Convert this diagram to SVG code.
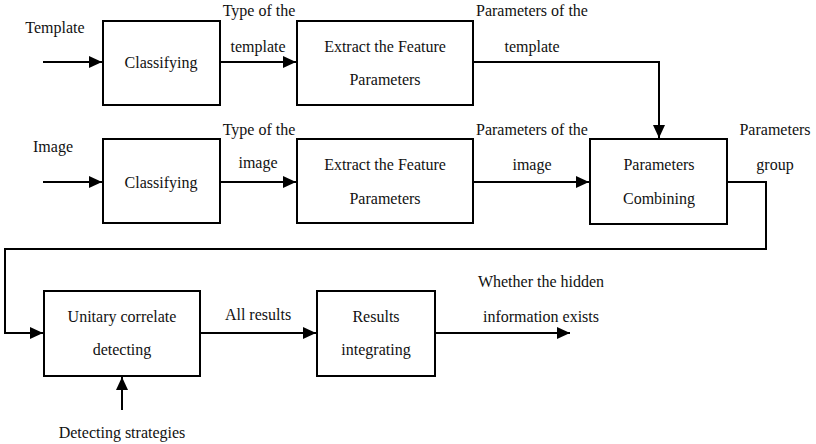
<svg xmlns="http://www.w3.org/2000/svg" width="816" height="444" viewBox="0 0 816 444">
  <style>
    .box { fill: #fff; stroke: #000; stroke-width: 2; }
    .wire { fill: none; stroke: #000; stroke-width: 2; }
    text { font-family: "Liberation Serif", "Times New Roman", serif; font-size: 16px; fill: #111; text-anchor: middle; }
  </style>
  <defs>
    <marker id="arrow" markerUnits="userSpaceOnUse" markerWidth="14" markerHeight="12" refX="13" refY="6" orient="auto">
      <path d="M0,0 L13,6 L0,12 Z" fill="#000"/>
    </marker>
  </defs>
  <rect width="816" height="444" fill="#fff"/>

  <g id="connectors">
    <path class="wire" d="M43,62 H102" marker-end="url(#arrow)"/>
    <path class="wire" d="M220,62 H296" marker-end="url(#arrow)"/>
    <path class="wire" d="M473,62 H659 V138" marker-end="url(#arrow)"/>
    <path class="wire" d="M43,182 H102" marker-end="url(#arrow)"/>
    <path class="wire" d="M220,182 H296" marker-end="url(#arrow)"/>
    <path class="wire" d="M473,182 H589" marker-end="url(#arrow)"/>
    <path class="wire" d="M727,182 H766 V249 H5 V333 H43" marker-end="url(#arrow)"/>
    <path class="wire" d="M200,333 H316" marker-end="url(#arrow)"/>
    <path class="wire" d="M435,333 H570" marker-end="url(#arrow)"/>
    <path class="wire" d="M122,410 V377" marker-end="url(#arrow)"/>
  </g>

  <g id="classify-template">
    <rect class="box" x="103" y="21" width="117" height="84"/>
    <text x="161" y="68">Classifying</text>
  </g>
  <g id="extract-template">
    <rect class="box" x="297" y="21" width="176" height="84"/>
    <text x="385" y="52">Extract the Feature</text>
    <text x="385" y="85">Parameters</text>
  </g>
  <g id="classify-image">
    <rect class="box" x="103" y="139" width="117" height="84"/>
    <text x="161" y="188">Classifying</text>
  </g>
  <g id="extract-image">
    <rect class="box" x="297" y="139" width="176" height="84"/>
    <text x="385" y="170">Extract the Feature</text>
    <text x="385" y="204">Parameters</text>
  </g>
  <g id="combine">
    <rect class="box" x="590" y="139" width="137" height="85"/>
    <text x="659" y="170">Parameters</text>
    <text x="659" y="204">Combining</text>
  </g>
  <g id="detect">
    <rect class="box" x="44" y="291" width="156" height="85"/>
    <text x="122" y="322">Unitary correlate</text>
    <text x="122" y="355">detecting</text>
  </g>
  <g id="integrate">
    <rect class="box" x="317" y="291" width="118" height="85"/>
    <text x="376" y="322">Results</text>
    <text x="376" y="355">integrating</text>
  </g>

  <g id="labels">
    <text x="55" y="33">Template</text>
    <text x="259" y="16">Type of the</text>
    <text x="258" y="52">template</text>
    <text x="532" y="16">Parameters of the</text>
    <text x="532" y="52">template</text>
    <text x="53" y="152">Image</text>
    <text x="259" y="135">Type of the</text>
    <text x="258" y="168">image</text>
    <text x="532" y="135">Parameters of the</text>
    <text x="532" y="170">image</text>
    <text x="775" y="135">Parameters</text>
    <text x="775" y="170">group</text>
    <text x="258" y="320">All results</text>
    <text x="541" y="287">Whether the hidden</text>
    <text x="541" y="322">information exists</text>
    <text x="122" y="438">Detecting strategies</text>
  </g>
</svg>
